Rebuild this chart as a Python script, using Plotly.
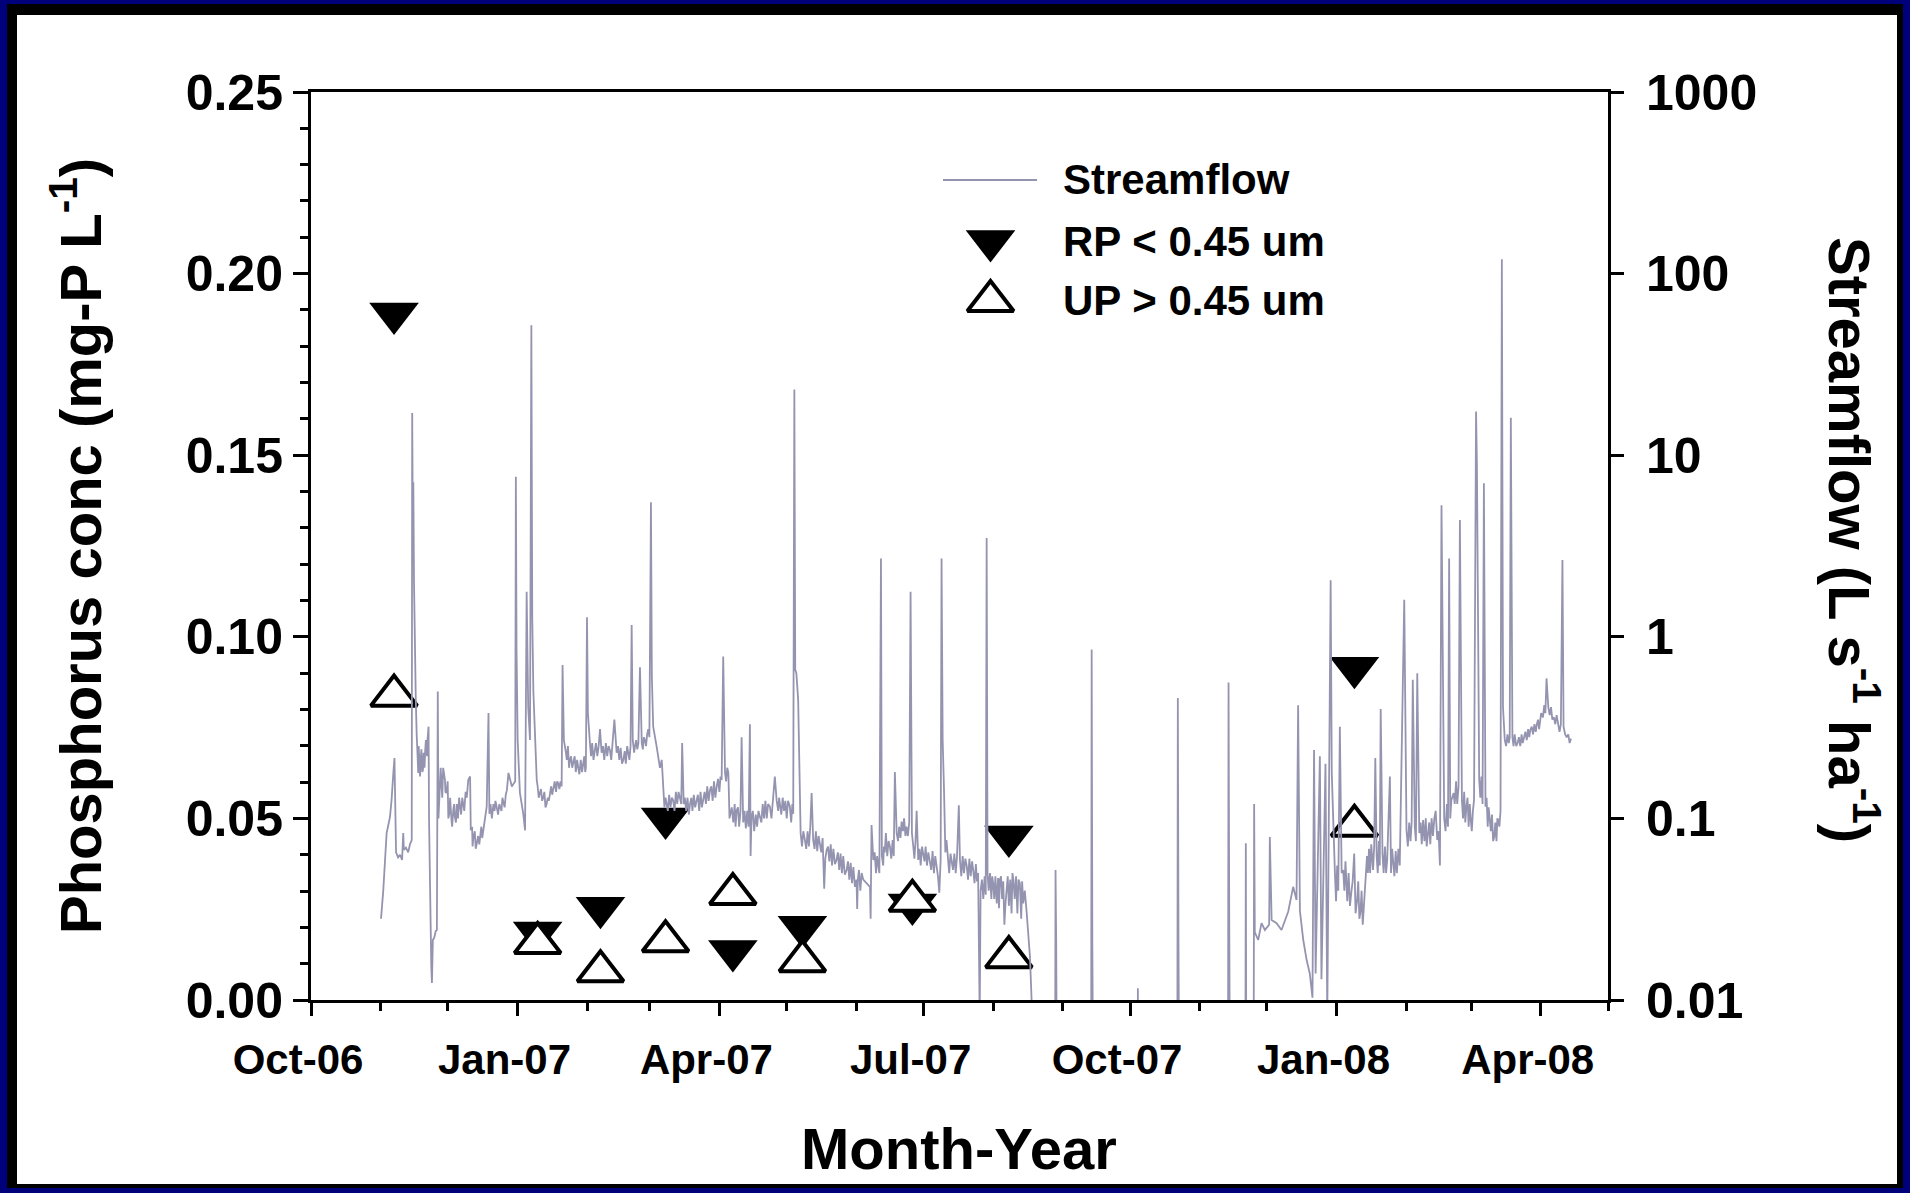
import pandas as pd
import plotly.graph_objects as go

# ---------------------------------------------------------------------------
# Page and plot-area geometry (pixels)
W, H = 1910, 1193
L, R, T, B = 311, 1608, 92, 1000

FONT = "Liberation Sans, Arial, Helvetica, sans-serif"
FLOW_COLOR = "#9494b0"
NAVY = "#00007a"

START = pd.Timestamp("2006-10-01")

# ---------------------------------------------------------------------------
# Streamflow record (L s-1 ha-1); time as days after 1 Oct 2006.
# 0.001 marks no-flow periods (below the axis floor of 0.01).
# Main hydrograph: baseflow level, storm peaks and recessions.
flow_day = [
    31.2, 31.7, 32.2, 33.0, 33.7, 34.3, 35.2, 35.9, 36.3, 36.7, 37.2, 37.6, 37.9,
    38.8, 39.7, 40.6, 41.1, 41.4, 42.3, 43.3, 44.1, 44.9, 45.1, 45.4, 45.6, 45.9,
    46.2, 46.7, 47.1, 47.3, 47.8, 48.3, 48.9, 49.9, 50.9, 51.5, 51.9, 52.4, 52.6,
    53.0, 53.6, 53.9, 54.3, 54.9, 55.6, 56.1, 56.5, 56.8, 57.5, 58.2, 58.9, 59.7,
    60.4, 61.6, 62.6, 63.4, 64.1, 66.4, 67.9, 69.4, 70.1, 70.9, 71.2, 72.4, 73.9,
    75.4, 76.8, 78.3, 79.1, 79.5, 81.3, 82.8, 84.3, 85.8, 87.3, 88.0, 89.5, 91.0,
    91.3, 91.6, 92.1, 93.1, 94.6, 95.4, 96.1, 96.8, 97.6, 98.2, 98.6, 99.1, 99.8,
    100.6, 102.0, 103.5, 105.0, 106.5, 108.0, 110.2, 111.7, 112.1, 112.7, 113.6,
    115.4, 116.9, 119.1, 121.3, 122.5, 123.0, 123.4, 124.3, 126.5, 128.8, 129.5,
    133.2, 135.2, 136.2, 139.2, 141.4, 142.9, 143.4, 144.4, 145.9, 146.6, 147.4,
    148.8, 150.3, 151.5, 151.9, 152.5, 154.0, 155.5, 156.3, 157.0, 158.5, 161.4,
    164.4, 165.4, 166.1, 168.9, 171.8, 174.8, 177.8, 180.8, 183.0, 183.7, 184.5,
    186.0, 187.0, 189.7, 191.9, 192.6, 195.6, 195.9, 196.3, 200.1, 204.5, 206.7,
    207.5, 209.0, 213.4, 214.9, 215.4, 215.8, 216.3, 217.1, 217.6, 218.2, 220.1,
    223.1, 223.8, 226.8, 228.7, 229.8, 234.2, 238.7, 243.1, 243.4, 243.7, 246.1,
    249.1, 249.4, 249.8, 250.6, 252.8, 254.0, 254.4, 255.7, 256.2, 258.0, 260.2,
    261.0, 263.2, 265.4, 267.2, 267.8, 268.4, 269.9, 270.6, 272.8, 275.8, 278.8,
    280.0, 280.6, 281.0, 281.5, 282.1, 283.2, 285.5, 288.7, 289.2, 292.2, 295.1,
    297.3, 298.0, 298.4, 301.1, 301.5, 304.0, 307.0, 309.0, 310.0, 313.0, 315.9,
    316.5, 318.1, 318.9, 319.6, 320.4, 321.1, 321.5,
    331.5, 331.8, 332.1, 332.6, 347.6, 347.9, 348.2, 348.8, 368.3, 368.5, 368.8,
    386.0, 386.3, 386.6, 387.1, 408.6, 408.9, 409.2, 409.7, 416.3, 416.6, 416.9,
    420.0, 420.3, 420.6,
    422.1, 423.6, 425.1, 427.0, 427.3, 428.1, 430.3, 432.5, 435.5, 437.7, 439.2,
    439.9, 440.7, 442.2, 443.7, 445.1, 446.3, 447.0, 447.7, 449.6, 450.3, 452.1,
    452.9, 454.4, 454.9, 456.3, 458.5, 459.3, 460.0, 461.4, 463.7, 464.9, 466.2,
    467.7, 468.7, 470.6, 472.8, 474.3, 474.9, 476.7, 477.5, 479.6, 480.8, 482.3,
    485.2, 487.2, 488.2, 491.0, 491.9, 493.0, 493.9, 497.7, 500.6, 501.9, 503.1,
    503.8, 505.0, 507.2, 508.2, 509.2, 512.0, 512.9, 514.9, 516.8, 518.3, 519.2,
    519.6, 520.6, 522.7, 523.4, 525.3, 527.3, 529.1, 530.7, 531.2, 532.0, 534.7,
    535.4, 537.7, 540.6, 543.4, 546.3, 548.2, 550.6, 551.4, 553.9, 555.8, 557.7,
    558.2, 559.6, 561.5,
]
flow_val = [
    0.028, 0.033, 0.040, 0.059, 0.083, 0.090, 0.102, 0.126, 0.143, 0.178, 0.215, 0.126, 0.065,
    0.061, 0.063, 0.059, 0.083, 0.067, 0.069, 0.065, 0.072, 0.076, 17.1, 3.5, 7.1, 2.0,
    0.82, 0.45, 0.29, 0.23, 0.178, 0.19, 0.21, 0.185, 0.238, 0.25, 0.27, 0.32, 0.10,
    0.033, 0.0153, 0.0124, 0.0214, 0.022, 0.024, 0.0243, 0.50, 0.10, 0.178, 0.15, 0.19, 0.163,
    0.138, 0.106, 0.098, 0.111, 0.102, 0.116, 0.12, 0.13, 0.163, 0.17, 0.086, 0.079, 0.073,
    0.083, 0.086, 0.116, 0.38, 0.106, 0.12, 0.111, 0.116, 0.12, 0.143, 0.178, 0.15, 0.16,
    7.6, 0.84, 0.27, 0.138, 0.106, 0.086, 1.77, 0.41, 0.27, 52.0, 1.28, 0.50, 0.27,
    0.163, 0.138, 0.13, 0.12, 0.138, 0.15, 0.156, 0.15, 0.70, 0.27, 0.23,
    0.21, 0.20, 0.19, 0.20, 0.19, 1.28, 0.38, 0.26, 0.238, 0.31, 0.23,
    0.238, 0.35, 0.23, 0.21, 0.23, 1.16, 0.27, 0.25, 0.26, 0.68, 0.26,
    0.27, 0.31, 5.5, 0.60, 0.32, 0.25, 0.19, 0.21, 0.13, 0.12, 0.126,
    0.13, 0.26, 0.12, 0.12, 0.126, 0.13, 0.143, 0.15, 0.163, 0.78, 0.178,
    0.178, 0.106, 0.111, 0.28, 0.095, 0.33, 0.062, 0.10, 0.10, 0.116, 0.17,
    0.126, 0.12, 0.116, 0.106, 23.0, 0.66, 0.63, 0.45, 0.178, 0.083, 0.076,
    0.138, 0.076, 0.07, 0.041, 0.067, 0.059, 0.052, 0.046, 0.0317, 0.046, 0.046,
    0.042, 0.028, 0.092, 0.059, 0.055, 2.7, 0.062, 0.065, 0.083, 0.07, 0.18,
    0.083, 0.096, 0.09, 1.77, 0.083, 0.07, 0.11, 0.059, 0.064, 0.059, 0.055,
    0.039, 0.059, 2.7, 0.27, 0.143, 0.076, 0.059, 0.118, 0.059, 0.055, 0.052,
    0.05, 0.008, 0.040, 3.5, 0.05, 0.044, 0.046, 0.026, 0.042, 0.046, 0.044,
    0.028, 0.040, 0.0307, 0.0236, 0.0173, 0.0103, 0.001,
    0.001, 0.052, 0.02, 0.001, 0.001, 0.85, 0.02, 0.001, 0.001, 0.0116, 0.001,
    0.001, 0.46, 0.02, 0.001, 0.001, 0.56, 0.03, 0.001, 0.001, 0.073, 0.001,
    0.001, 0.12, 0.0236,
    0.0214, 0.0265, 0.0243, 0.026, 0.079, 0.0276, 0.0265, 0.0243, 0.0307, 0.042, 0.0355,
    0.42, 0.031, 0.0214, 0.0166, 0.014, 0.0103, 0.238, 0.014, 0.22, 0.013, 0.20,
    0.008, 2.05, 0.178, 0.05, 0.32, 0.05, 0.052, 0.046, 0.040, 0.064, 0.0355,
    0.0307, 0.026, 0.062, 0.064, 0.215, 0.062, 0.40, 0.064, 0.059, 0.17, 0.059,
    0.055, 1.6, 0.086, 0.58, 0.09, 0.63, 0.083, 0.079, 0.10, 0.076, 0.055,
    5.3, 0.10, 2.7, 0.126, 0.138, 4.4, 0.126, 0.116, 0.10, 0.126, 17.4,
    8.6, 0.163, 7.0, 0.116, 0.10, 0.079, 0.098, 120.0, 0.41, 0.27, 16.1,
    0.28, 0.26, 0.28, 0.307, 0.33, 0.38, 0.59, 0.41, 0.36, 0.32, 2.65,
    0.32, 0.28, 0.275,
]

# Short-term fluctuation of the baseflow between storms (upper / lower
# edges of the recorded band), same units and time base.
band_day = [
    47.6, 48.0, 48.6, 49.2, 49.6, 50.2, 50.6, 51.2, 51.7,
    57.2, 57.8, 58.5, 59.2, 59.9, 60.9, 61.2, 62.0, 62.9, 63.8, 64.6, 65.0, 65.5,
    66.0, 66.9, 67.4, 68.3, 68.9,
    71.8, 72.0, 73.0, 73.4, 74.5, 75.0, 75.9, 76.3, 77.3, 77.8, 80.0, 80.6, 81.8,
    82.2, 83.4, 83.9, 84.9, 85.3, 86.3, 86.8,
    101.0, 101.5, 102.5, 103.0, 104.0, 104.5, 105.5, 106.0, 107.0, 107.5, 108.6,
    109.2, 109.7, 110.7, 111.2,
    114.0, 114.5, 115.0, 115.9, 116.4, 117.5, 118.0, 118.6, 119.6, 120.2, 120.8,
    121.8, 122.2,
    124.8, 125.3, 125.9, 127.0, 127.6, 128.2, 130.1, 130.7, 131.4, 132.0, 132.6,
    133.8, 134.4, 136.8, 137.4, 138.0, 138.6, 139.8, 140.3, 140.9, 141.9, 142.4,
    144.0, 144.9, 145.4, 147.9, 148.3, 149.3, 149.8, 150.8,
    157.5, 158.0, 159.0, 159.6, 160.2, 160.8, 162.0, 162.6, 163.2, 163.8, 165.0,
    166.6, 167.2, 167.8, 168.4, 169.5, 170.0, 170.6, 171.2, 172.4, 173.0, 173.6,
    174.2, 175.4, 176.0, 176.6, 177.2, 178.4, 179.0, 179.6, 180.2, 181.4, 182.0,
    182.5, 185.0, 185.5, 186.5, 187.5, 188.2, 188.8, 189.2, 190.3, 190.8, 191.4,
    193.2, 193.8, 194.4, 195.0, 196.9, 197.5, 198.2, 198.8, 199.4, 200.7, 201.3,
    201.9, 202.5, 203.1, 203.7, 205.2, 205.8, 208.2, 208.6, 209.6, 210.2, 210.8,
    211.4, 212.0, 212.6, 214.0, 214.5,
    218.8, 219.4, 220.7, 221.3, 221.9, 222.5, 224.4, 225.0, 225.6, 226.2, 227.4,
    228.0, 229.2, 230.4, 231.0, 231.6, 232.2, 232.8, 233.5, 234.8, 235.4, 236.0,
    236.6, 237.2, 237.9, 239.3, 239.9, 240.5, 241.1, 241.7, 242.4, 244.2, 244.8,
    245.4,
    251.2, 251.8, 252.3, 253.3, 255.0, 255.3, 256.8, 257.4, 258.6, 259.2, 259.7,
    261.6, 262.1, 262.7, 263.8, 264.3, 264.9, 266.0, 266.6, 268.9, 269.4, 271.2,
    271.7, 272.3, 273.4, 273.9, 274.5, 275.1, 276.4, 277.0, 277.6, 278.2, 279.4,
    282.7, 283.8, 284.4, 285.0, 286.1, 286.7, 287.3, 287.9, 289.8, 290.4, 291.0,
    291.6, 292.8, 293.4, 294.0, 294.6, 295.7, 296.3, 296.8,
    299.0, 299.6, 300.2, 300.7, 302.0, 302.6, 303.2, 303.6, 304.5, 305.0, 305.6,
    306.2, 306.6, 307.5, 308.0, 308.5, 309.5, 310.5, 311.0, 311.6, 312.2, 312.6,
    313.6, 314.2, 314.8, 315.3, 316.9, 317.4,
    456.8, 457.3, 457.8, 459.0, 460.5, 461.0, 461.8, 462.4, 463.0, 464.2, 465.5,
    466.7, 467.2, 468.2,
    471.0, 471.5, 472.0, 472.5, 473.3, 473.8, 475.4, 475.9, 476.3, 478.0, 478.6,
    479.1, 481.3, 481.8, 482.8, 483.4, 483.9, 484.6,
    488.8, 489.4, 490.0, 490.5, 492.4, 494.5, 495.0, 495.6, 496.2, 496.8, 497.2,
    498.3, 498.8, 499.4, 500.0, 501.2, 502.5,
    505.6, 506.2, 506.7, 507.7, 509.7, 510.3, 510.8, 511.4, 513.4, 513.9, 514.4,
    515.4, 515.9, 516.4, 517.3, 517.8, 521.1, 521.6, 522.1, 523.9, 524.4, 524.8,
    525.8, 526.3, 526.8, 527.8, 528.3, 528.7, 529.6, 530.1,
    532.6, 533.2, 533.8, 534.2, 535.9, 536.4, 537.1, 538.3, 538.9, 539.5, 540.0,
    541.2, 541.8, 542.4, 542.9, 544.0, 544.6, 545.2, 545.8, 546.8, 547.3, 547.8,
    549.0, 549.6, 550.1, 552.0, 552.6, 553.2, 554.5, 555.1, 556.4, 557.0, 558.9,
    560.3, 560.9,
]
band_val = [
    0.20, 0.25, 0.17, 0.24, 0.18, 0.23, 0.19, 0.27, 0.22,
    0.14, 0.19, 0.13, 0.18, 0.14, 0.16, 0.10, 0.13, 0.09, 0.12, 0.095, 0.12, 0.10,
    0.13, 0.105, 0.13, 0.11, 0.14,
    0.09, 0.07, 0.085, 0.068, 0.08, 0.072, 0.09, 0.078, 0.095, 0.10, 0.12, 0.10, 0.11,
    0.125, 0.105, 0.12, 0.11, 0.13, 0.115, 0.135,
    0.15, 0.13, 0.145, 0.125, 0.14, 0.115, 0.13, 0.125, 0.15, 0.135, 0.16,
    0.14, 0.16, 0.145, 0.16,
    0.21, 0.25, 0.19, 0.22, 0.19, 0.22, 0.18, 0.21, 0.175, 0.21, 0.18,
    0.22, 0.18,
    0.22, 0.26, 0.21, 0.26, 0.22, 0.25, 0.25, 0.21, 0.26, 0.22, 0.25,
    0.21, 0.26, 0.25, 0.21, 0.245, 0.20, 0.235, 0.20, 0.25, 0.21, 0.25,
    0.23, 0.27, 0.24, 0.24, 0.28, 0.25, 0.29, 0.28,
    0.115, 0.13, 0.11, 0.135, 0.115, 0.13, 0.11, 0.14, 0.12, 0.14, 0.12,
    0.13, 0.11, 0.13, 0.105, 0.13, 0.11, 0.135, 0.115, 0.135, 0.11, 0.14,
    0.115, 0.14, 0.12, 0.15, 0.125, 0.15, 0.125, 0.16, 0.13, 0.165, 0.14,
    0.17, 0.16, 0.19, 0.10, 0.115, 0.095, 0.12, 0.09, 0.115, 0.09, 0.11,
    0.11, 0.088, 0.11, 0.09, 0.11, 0.085, 0.105, 0.09, 0.11, 0.095, 0.12,
    0.10, 0.125, 0.10, 0.12, 0.10, 0.125, 0.11, 0.13, 0.105, 0.13, 0.11,
    0.125, 0.10, 0.125, 0.095, 0.12,
    0.07, 0.085, 0.068, 0.085, 0.07, 0.09, 0.068, 0.085, 0.066, 0.08, 0.065,
    0.078, 0.06, 0.07, 0.058, 0.072, 0.055, 0.068, 0.056, 0.065, 0.052, 0.064,
    0.05, 0.062, 0.049, 0.058, 0.046, 0.057, 0.044, 0.054, 0.042, 0.052, 0.04,
    0.05,
    0.065, 0.05, 0.062, 0.05, 0.055, 0.07, 0.062, 0.075, 0.06, 0.076, 0.062,
    0.075, 0.09, 0.078, 0.085, 0.10, 0.08, 0.08, 0.095, 0.06, 0.075, 0.068,
    0.055, 0.07, 0.058, 0.07, 0.055, 0.065, 0.052, 0.066, 0.05, 0.062, 0.048,
    0.065, 0.063, 0.05, 0.064, 0.052, 0.064, 0.05, 0.062, 0.048, 0.062, 0.05,
    0.06, 0.046, 0.06, 0.048, 0.058, 0.044, 0.056, 0.045,
    0.046, 0.036, 0.048, 0.038, 0.04, 0.05, 0.036, 0.048, 0.036, 0.048, 0.034,
    0.047, 0.032, 0.048, 0.036, 0.045, 0.034, 0.048, 0.033, 0.046, 0.03, 0.05,
    0.036, 0.048, 0.03, 0.046, 0.045, 0.034,
    0.035, 0.055, 0.04, 0.06, 0.04, 0.058, 0.035, 0.05, 0.033, 0.045, 0.03,
    0.045, 0.028, 0.04,
    0.05, 0.068, 0.05, 0.072, 0.052, 0.07, 0.05, 0.075, 0.055, 0.05, 0.07,
    0.05, 0.05, 0.068, 0.048, 0.066, 0.05, 0.068,
    0.07, 0.095, 0.075, 0.095, 0.075, 0.095, 0.072, 0.098, 0.075, 0.10, 0.07,
    0.095, 0.072, 0.10, 0.08, 0.11, 0.085,
    0.085, 0.12, 0.09, 0.10, 0.12, 0.16, 0.12, 0.15, 0.10, 0.14, 0.095,
    0.13, 0.09, 0.12, 0.085, 0.11, 0.13, 0.17, 0.12, 0.13, 0.09, 0.115,
    0.085, 0.105, 0.075, 0.095, 0.075, 0.10, 0.09, 0.11,
    0.25, 0.29, 0.26, 0.28, 0.25, 0.29, 0.25, 0.28, 0.25, 0.29, 0.26,
    0.30, 0.27, 0.31, 0.28, 0.32, 0.29, 0.33, 0.30, 0.35, 0.31, 0.36,
    0.36, 0.42, 0.38, 0.37, 0.41, 0.35, 0.33, 0.37, 0.30, 0.33, 0.29,
    0.29, 0.26,
]

# Phosphorus samples (mg-P L-1)
sample_date = [
    "2006-11-07", "2007-01-10", "2007-02-07", "2007-03-08", "2007-04-07",
    "2007-05-08", "2007-06-26", "2007-08-08", "2008-01-09",
]
rp_conc = [0.189, 0.0186, 0.0254, 0.050, 0.0135, 0.0202, 0.0263, 0.045, 0.0915]
up_conc = [0.0838, 0.0157, 0.0079, 0.0162, 0.0292, 0.0107, 0.0273, 0.0118, 0.048]

# Axis ticks
flow_ticks = [0.01, 0.1, 1, 10, 100, 1000]
flow_tick_text = ["0.01", "0.1", "1", "10", "100", "1000"]

legend_labels = ["Streamflow", "RP < 0.45 um", "UP > 0.45 um"]

# ---------------------------------------------------------------------------
# Merge hydrograph and baseflow band into one time-ordered record
record = sorted(zip(flow_day + band_day, flow_val + band_val))
flow_time = [START + pd.to_timedelta(d, unit="D") for d, _ in record]
flow_all = [v for _, v in record]


def fx(px):
    """page x pixel -> paper fraction"""
    return (px - L) / (R - L)


def fy(py):
    """page y pixel -> paper fraction"""
    return (B - py) / (B - T)


fig = go.Figure()

fig.add_trace(go.Scatter(
    x=flow_time, y=flow_all, yaxis="y2", mode="lines",
    line=dict(color=FLOW_COLOR, width=1.8), name="Streamflow",
    showlegend=False, hoverinfo="skip",
))
fig.add_trace(go.Scatter(
    x=sample_date, y=rp_conc, mode="markers", name="RP < 0.45 um",
    marker=dict(symbol="triangle-down", size=43, color="black", line=dict(width=0)),
    showlegend=False, cliponaxis=False,
))
fig.add_trace(go.Scatter(
    x=sample_date, y=up_conc, mode="markers", name="UP > 0.45 um",
    marker=dict(symbol="triangle-up", size=40, color="white",
                line=dict(width=4, color="black")),
    showlegend=False, cliponaxis=False,
))

# Legend keys drawn on a hidden pixel-space overlay
fig.add_trace(go.Scatter(
    x=[943, 1037], y=[180, 180], xaxis="x3", yaxis="y3", mode="lines",
    line=dict(color=FLOW_COLOR, width=2), showlegend=False, hoverinfo="skip",
))
fig.add_trace(go.Scatter(
    x=[990.5], y=[241], xaxis="x3", yaxis="y3", mode="markers",
    marker=dict(symbol="triangle-down", size=43, color="black", line=dict(width=0)),
    showlegend=False, hoverinfo="skip",
))
fig.add_trace(go.Scatter(
    x=[990.5], y=[301], xaxis="x3", yaxis="y3", mode="markers",
    marker=dict(symbol="triangle-up", size=40, color="white",
                line=dict(width=4, color="black")),
    showlegend=False, hoverinfo="skip",
))

tick_font_y = dict(family=FONT, size=50, color="black", weight="bold")
tick_font_x = dict(family=FONT, size=42, color="black", weight="bold")

fig.update_layout(
    width=W, height=H, autosize=False,
    margin=dict(l=L, r=W - R, t=T, b=H - B, pad=0),
    paper_bgcolor=NAVY, plot_bgcolor="white",
    font=dict(family=FONT, color="black"),
    showlegend=False,
    xaxis=dict(
        type="date", range=["2006-10-01", "2008-05-01"],
        showgrid=False, zeroline=False,
        showline=True, linecolor="black", linewidth=3, mirror=True,
        ticks="outside", ticklen=13, tickwidth=3, tickcolor="black",
        dtick="M3", tick0="2006-10-01", tickformat="%b-%y",
        tickfont=tick_font_x, ticklabelshift=-13, ticklabelstandoff=8,
        minor=dict(ticks="outside", ticklen=8, tickwidth=3, tickcolor="black",
                   dtick="M1", showgrid=False),
    ),
    yaxis=dict(
        range=[0, 0.25], showgrid=False, zeroline=False,
        showline=True, linecolor="black", linewidth=3,
        ticks="outside", ticklen=15, tickwidth=3, tickcolor="black",
        dtick=0.05, tick0=0, tickformat=".2f", tickfont=tick_font_y,
        minor=dict(ticks="outside", ticklen=8, tickwidth=3, tickcolor="black",
                   dtick=0.01, showgrid=False),
    ),
    yaxis2=dict(
        type="log", range=[-2, 3], overlaying="y", side="right",
        showgrid=False, zeroline=False,
        showline=True, linecolor="black", linewidth=3,
        ticks="outside", ticklen=13, tickwidth=3, tickcolor="black",
        tickvals=flow_ticks, ticktext=flow_tick_text, tickfont=tick_font_y,
        ticklabelstandoff=12,
    ),
    xaxis3=dict(range=[L, R], overlaying="x", visible=False, anchor="y3"),
    yaxis3=dict(range=[B, T], overlaying="y", visible=False, anchor="x3"),
)

# Page frame: navy border, black rim, white card
fig.add_shape(type="rect", xref="paper", yref="paper",
              x0=fx(7), x1=fx(1903), y0=fy(1188), y1=fy(4),
              fillcolor="black", line=dict(width=0), layer="below")
fig.add_shape(type="rect", xref="paper", yref="paper",
              x0=fx(17), x1=fx(1897), y0=fy(1184), y1=fy(15),
              fillcolor="white", line=dict(width=0), layer="below")

title_font = dict(family=FONT, size=58, color="black", weight="bold")
fig.add_annotation(text="Month-Year", xref="paper", yref="paper",
                   x=fx(959), y=fy(1148), showarrow=False,
                   xanchor="center", yanchor="middle", font=title_font)
fig.add_annotation(text="Phosphorus conc (mg-P L<sup>-1</sup>)", xref="paper", yref="paper",
                   x=fx(76), y=fy(546), showarrow=False, textangle=-90,
                   xanchor="center", yanchor="middle", font=title_font)
fig.add_annotation(text="Streamflow (L s<sup>-1</sup> ha<sup>-1</sup>)", xref="paper", yref="paper",
                   x=fx(1854), y=fy(540), showarrow=False, textangle=90,
                   xanchor="center", yanchor="middle", font=title_font)

legend_font = dict(family=FONT, size=42, color="black", weight="bold")
for label, ypix in zip(legend_labels, [180, 241, 300]):
    fig.add_annotation(text=label, xref="paper", yref="paper",
                       x=fx(1061), y=fy(ypix), showarrow=False,
                       xanchor="left", yanchor="middle", font=legend_font)

fig.write_html("out.html")
